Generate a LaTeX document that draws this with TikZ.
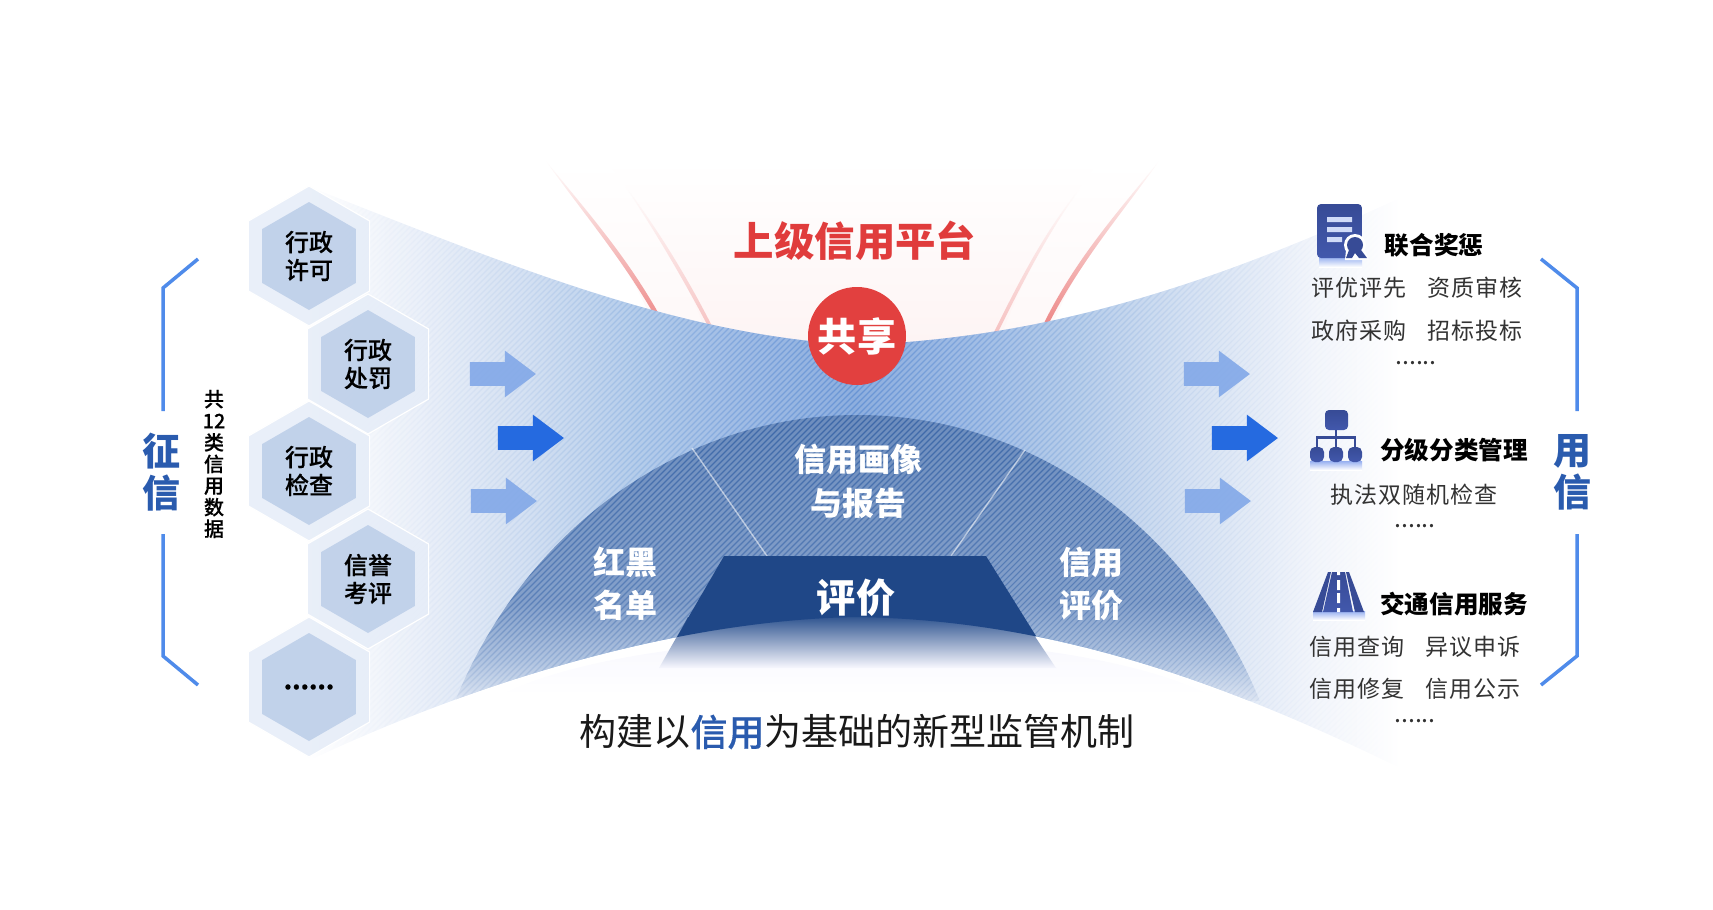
\documentclass[tikz,border=0pt]{standalone}
\usepackage{xcolor}
\usepackage{fontspec}
\setmainfont{Noto Sans CJK SC}
\newfontfamily\bodyfont[LetterSpace=4]{Noto Sans CJK SC}
\newfontfamily\medfont[FakeBold=0.35]{Noto Sans CJK SC Medium}
\usetikzlibrary{positioning,calc,shapes.geometric,shapes.arrows}
\definecolor{BlueTxt}{RGB}{42,91,174}
\definecolor{BrkBlue}{RGB}{79,139,234}
\definecolor{ArrDark}{RGB}{37,106,224}
\definecolor{ArrPale}{RGB}{130,168,232}
\definecolor{HexOut}{RGB}{230,237,248}
\definecolor{HexIn}{RGB}{192,209,234}
\definecolor{RedTxt}{RGB}{224,60,60}
\definecolor{RedDot}{RGB}{226,64,63}
\definecolor{TrapBlue}{RGB}{31,71,135}
\definecolor{IconBlue}{RGB}{55,75,150}
\definecolor{IconHi}{RGB}{66,88,172}
\definecolor{IconGlow}{RGB}{150,175,240}
\definecolor{fa}{RGB}{228,235,247}
\definecolor{fb}{RGB}{197,214,238}
\definecolor{fc}{RGB}{156,188,228}
\definecolor{fd}{RGB}{127,165,220}
\definecolor{fe}{RGB}{104,148,212}
\definecolor{ff}{RGB}{127,165,220}
\definecolor{fg}{RGB}{158,188,227}
\definecolor{fh}{RGB}{197,214,238}
\definecolor{fi}{RGB}{238,242,250}
\definecolor{da}{RGB}{61,104,168}
\definecolor{db}{RGB}{92,129,185}
\definecolor{dc}{RGB}{150,176,214}
\definecolor{dd}{RGB}{209,220,238}
\pgfdeclarehorizontalshading{funnelshade}{100bp}{color(0bp)=(white);color(25bp)=(white);
  color(30bp)=(fa);color(35bp)=(fb);color(40bp)=(fc);color(45bp)=(fd);color(50bp)=(fe);
  color(55bp)=(ff);color(60bp)=(fg);color(65bp)=(fh);color(71bp)=(fi);color(75bp)=(white);
  color(100bp)=(white)}
\pgfdeclareverticalshading{domeshade}{100bp}{color(0bp)=(white);color(25bp)=(dd);
  color(32bp)=(dc);color(42bp)=(db);color(75bp)=(da);color(100bp)=(da)}
\newcommand{\funnelpath}{(310,187) .. controls (520,270) and (680,335) .. (857,345)
  .. controls (1040,338) and (1200,290) .. (1400,198) -- (1400,768)
  .. controls (1220,680) and (1050,620) .. (857,617)
  .. controls (680,620) and (480,680) .. (310,760) -- cycle}
\tikzset{
  hexouter/.style={regular polygon,regular polygon sides=6,regular polygon rotate=30,
                   minimum size=70pt,inner sep=0pt,fill=HexOut,fill opacity=0.88,draw=white,line width=0.6pt},
  hexinner/.style={regular polygon,regular polygon sides=6,regular polygon rotate=30,
                   minimum size=54pt,inner sep=0pt,fill=HexIn,fill opacity=0.95,text opacity=1,
                   align=center,font=\fontsize{12}{14}\medfont},
  palearrow/.style={single arrow,single arrow head extend=5.75pt,single arrow tip angle=74,
                    text width=0pt,text height=5.75pt,text depth=5.75pt,
                    minimum height=33pt,inner sep=0pt,fill=ArrPale,fill opacity=0.9},
  darkarrow/.style={palearrow,fill=ArrDark,fill opacity=1},
  bracketline/.style={BrkBlue,line width=1.75pt},
  sideword/.style={BlueTxt,align=center,font=\fontsize{19}{21}\selectfont\bfseries},
  domeword/.style={white,align=center,font=\fontsize{16}{19.5}\selectfont\bfseries},
  headtxt/.style={font=\fontsize{12.3}{14}\selectfont\bfseries},
  bodytxt/.style={black!80,font=\fontsize{11.5}{14}\bodyfont},
  dotstxt/.style={black!80,font=\fontsize{12.5}{12}\selectfont},
  hatchline/.style={white,opacity=0.25,line width=1.4pt},
  iconfill/.style={top color=IconBlue,bottom color=IconHi},
  iconglow/.style={top color=IconGlow,bottom color=white},
}
\begin{document}
\begin{tikzpicture}[x=0.5pt,y=-0.5pt]
  \useasboundingbox (0,0) rectangle (1713,910);
  % red glow behind the neck
  \shade[top color=white,middle color=RedDot!14!white,bottom color=RedDot!4!white]
    (545,160) .. controls (590,215) and (630,260) .. (664,350) -- (1043,350)
    .. controls (1075,260) and (1115,215) .. (1160,160) -- cycle;
  \shade[top color=white,middle color=RedDot!28!white,bottom color=RedDot!6!white]
    (605,160) .. controls (650,210) and (690,280) .. (712,350) -- (996,350)
    .. controls (1020,280) and (1060,210) .. (1100,160) -- cycle;
  \shade[top color=white,middle color=RedDot!40!white,bottom color=RedDot!62!white]
    (545,160) .. controls (590,215) and (630,260) .. (665,325) -- (660,325)
    .. controls (625,262) and (586,217) .. (545,160);
  \shade[top color=white,middle color=RedDot!40!white,bottom color=RedDot!62!white]
    (1160,160) .. controls (1115,215) and (1075,260) .. (1043,325) -- (1048,325)
    .. controls (1080,262) and (1119,217) .. (1160,160);
  \shade[top color=white,bottom color=RedDot!32!white]
    (623,183) .. controls (660,232) and (690,282) .. (715,332) -- (711,332)
    .. controls (686,284) and (657,234) .. (623,183);
  \shade[top color=white,bottom color=RedDot!32!white]
    (1082,186) .. controls (1045,230) and (1020,280) .. (994,332) -- (998,332)
    .. controls (1023,282) and (1048,232) .. (1082,186);
  % pale shadow under the funnel
  \shade[top color=black!12!blue!4!white,bottom color=white]
    (500,695) .. controls (650,620) and (1060,620) .. (1210,695) -- cycle;
  % funnel, dome and hatching
  \shade[shading=funnelshade] \funnelpath;
  \begin{scope}
    \clip \funnelpath;
    \begin{scope}
      \clip (857.5,896) ellipse [x radius=440,y radius=481];
      \shade[shading=domeshade] (400,415) rectangle (1320,700);
    \end{scope}
    \draw[hatchline] foreach \i in {-400,-394,...,1500} {(\i,800) -- (\i+800,0)};
  \end{scope}
  % sector lines and the lower block
  \draw[white,opacity=0.55,line width=0.7pt] (692,448) -- (767,556);
  \draw[white,opacity=0.55,line width=0.7pt] (1025,450) -- (951,556);
  \shade[top color=TrapBlue!92!white,bottom color=black!6!blue!3!white]
    (688,617) -- (1022,617) -- (1056,668) -- (659,668) -- cycle;
  \begin{scope}
    \clip \funnelpath;
    \fill[TrapBlue] (724,556) -- (986,556) -- (1056,668) -- (659,668) -- cycle;
  \end{scope}
  \node[domeword] (portrait) at (858,481) {信用画像\\[2.5pt]与报告};
  \node[domeword] (redblack) at (625,584) {红黑\\[2pt]名单};
  \node[domeword] (creditval) at (1091,584) {信用\\[2pt]评价};
  \node[white,font=\fontsize{19.6}{22}\selectfont\bfseries] (evalword) at (856,598) {评价};
  % top labels
  \node[RedTxt,font=\fontsize{20.2}{24}\selectfont\bfseries] (platform) at (855,241) {上级信用平台};
  \node[circle,fill=RedDot,minimum size=49pt,inner sep=0pt,text=white,
        font=\fontsize{19.6}{22}\selectfont\bfseries] (share) at (857,336) {共享};
  % hexagons on the left
  \foreach \name/\x/\y/\txt in {xk/309/256/{行政\\许可},cf/368/364/{行政\\处罚},
      jc/309/471/{行政\\检查},kp/368/579/{信誉\\考评},more/309/687/{\raisebox{-1pt}{\bfseries ......}}} {
    \node[hexouter] (out\name) at (\x,\y) {};
    \node[hexinner] (\name) at (\x,\y) {\txt};
  }
  % arrows
  \foreach \name/\x/\y in {la/495/374,lb/496/501,ra/1209/374,rb/1210/501}
    \node[palearrow] (\name) at (\x,\y) {};
  \node[darkarrow] (lc) at (523,438) {};
  \node[darkarrow] (rc) at (1237,438) {};
  % brackets
  \draw[bracketline] (198,259) -- (163,288) -- (163,411);
  \draw[bracketline] (163,534) -- (163,656) -- (198,685);
  \draw[bracketline] (1541,259) -- (1577,288) -- (1577,411);
  \draw[bracketline] (1577,534) -- (1577,656) -- (1541,685);
  \node[sideword] (zhengxin) at (161,472) {征\\信};
  \node[sideword] (yongxin) at (1572,472) {用\\信};
  \node[align=center,font=\fontsize{10}{10.8}\medfont] (count) at (214,464)
    {共\\12\\类\\信\\用\\数\\据};
  % document icon
  \shade[iconglow] (1319,257) rectangle (1362,267);
  \shade[iconfill,rounded corners=2pt] (1317,204) rectangle (1362,258);
  \fill[IconGlow!45!white] (1327,217) rectangle (1352,222) (1327,227) rectangle (1352,232)
    (1327,237) rectangle (1342,242);
  \fill[white] (1355,245) circle [radius=11];
  \fill[white] (1346,250) -- (1345,260) -- (1369,260) -- (1365,250) -- cycle;
  \fill[IconBlue] (1355,245) circle [radius=8];
  \fill[IconBlue] (1349,250) -- (1346,258) -- (1352,258) -- (1355,253) -- (1359,258) -- (1367,258) -- (1361,250) -- cycle;
  % org chart icon
  \shade[iconglow] (1310,461) rectangle (1362,470);
  \shade[iconfill,rounded corners=2pt] (1325,410) rectangle (1348,430);
  \draw[IconBlue,line width=1.1pt] (1336,430) -- (1336,448) (1317,448) -- (1317,437.5) -- (1355,437.5) -- (1355,448);
  \foreach \x in {1317,1336,1355}
    \shade[iconfill,rounded corners=2.5pt] (\x-7,447) rectangle (\x+7,462);
  % road icon
  \shade[iconglow] (1313,611) rectangle (1365,620);
  \shade[iconfill] (1332,572) -- (1345,572) -- (1353,612) -- (1323,612) -- cycle;
  \fill[IconBlue] (1328,572) -- (1331,572) -- (1322,612) -- (1313,612) -- cycle;
  \fill[IconBlue] (1346,572) -- (1349,572) -- (1364,612) -- (1355,612) -- cycle;
  \fill[white] (1337,572) rectangle (1340,575) (1337,580) rectangle (1340,590)
    (1337,593) rectangle (1340,603) (1337,608) rectangle (1340,612);
  % right column
  \node[headtxt] (hlian) at (1434,245) {联合奖惩};
  \node[bodytxt] (pa) at (1359,288) {评优评先};
  \node[bodytxt] (pb) at (1475,288) {资质审核};
  \node[bodytxt] (pc) at (1359,331) {政府采购};
  \node[bodytxt] (pd) at (1475,331) {招标投标};
  \node[dotstxt] (dotsa) at (1416,363) {......};
  \node[headtxt] (hfen) at (1454,450) {分级分类管理};
  \node[bodytxt] (qa) at (1414,495) {执法双随机检查};
  \node[dotstxt] (dotsb) at (1415,526) {......};
  \node[headtxt] (hjiao) at (1454,604) {交通信用服务};
  \node[bodytxt] (sa) at (1357,647) {信用查询};
  \node[bodytxt] (sb) at (1473,647) {异议申诉};
  \node[bodytxt] (sc) at (1357,689) {信用修复};
  \node[bodytxt] (sd) at (1473,689) {信用公示};
  \node[dotstxt] (dotsc) at (1415,721) {......};
  % bottom line
  \node[black!90,font=\fontsize{18.5}{22}\selectfont] (slogan) at (857,732)
    {构建以{\color{BlueTxt}\medfont 信用}为基础的新型监管机制};
\end{tikzpicture}
\end{document}
